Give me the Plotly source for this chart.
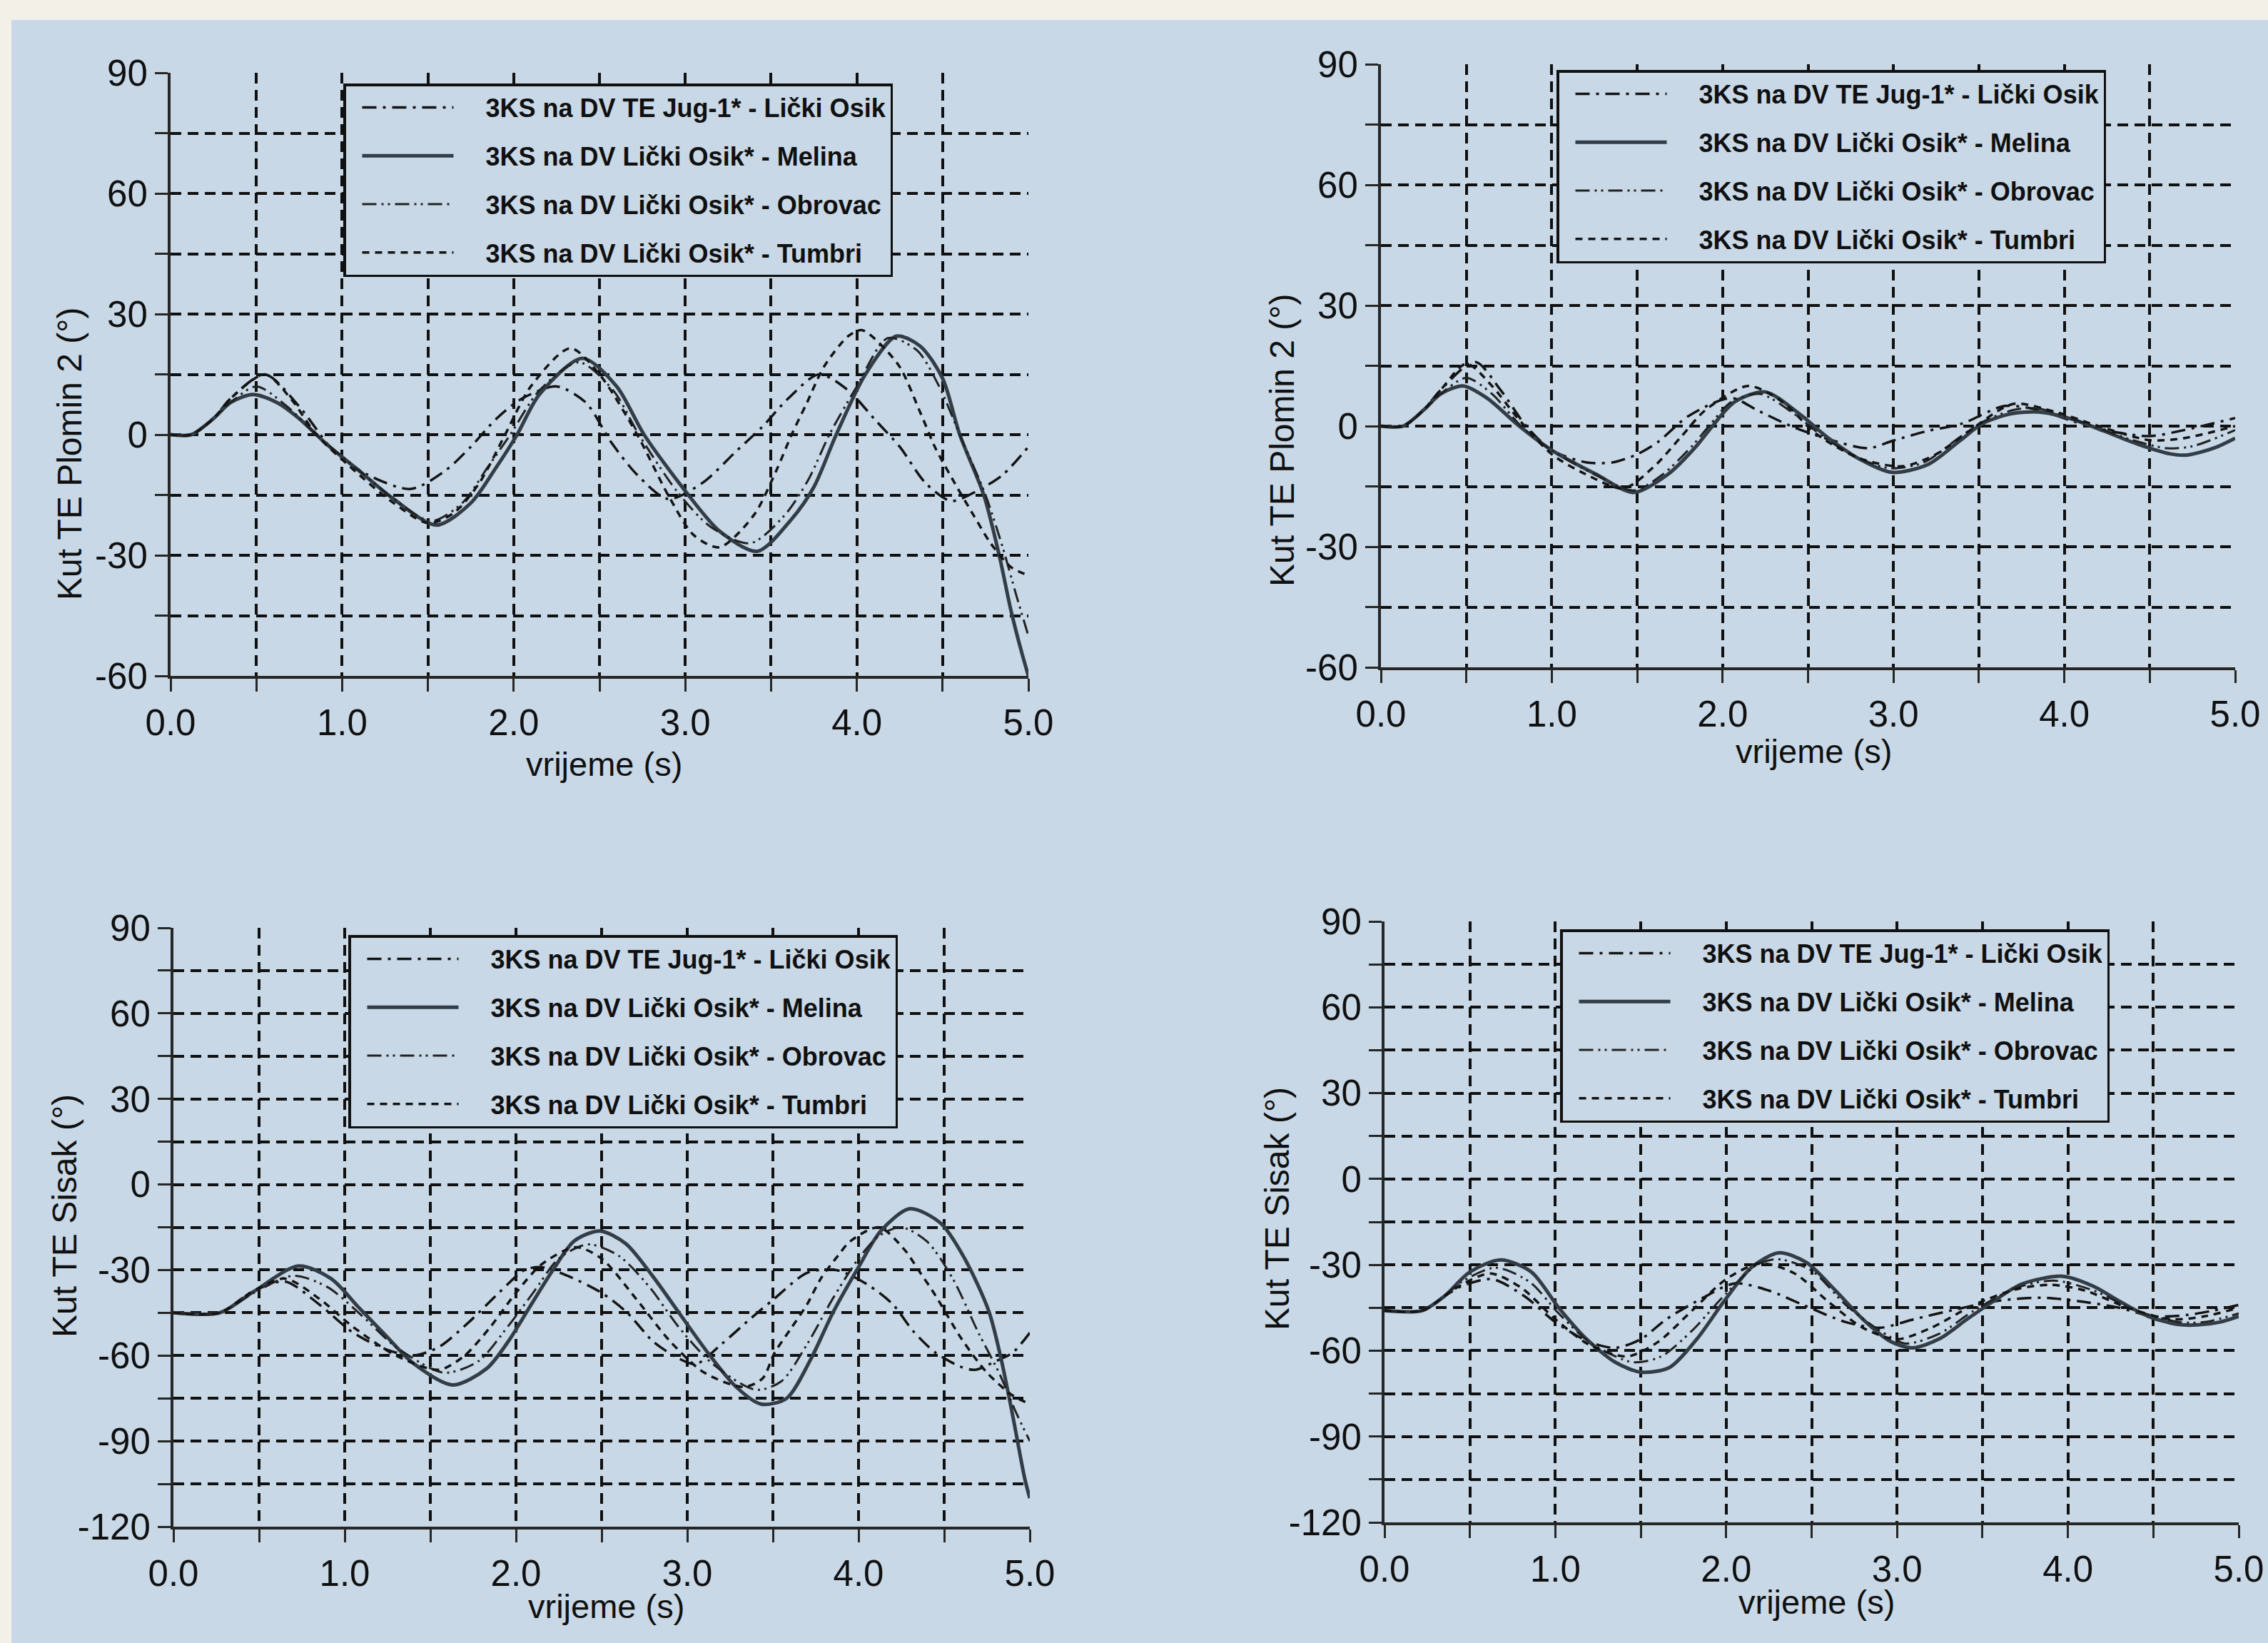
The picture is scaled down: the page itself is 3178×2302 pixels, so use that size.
import plotly.graph_objects as go

W, H = 3178, 2302

# ---------------- data ----------------
series_names = [
    "3KS na DV TE Jug-1* - Lički Osik",
    "3KS na DV Lički Osik* - Melina",
    "3KS na DV Lički Osik* - Obrovac",
    "3KS na DV Lički Osik* - Tumbri",
]

x_tick_vals = [0, 0.5, 1, 1.5, 2, 2.5, 3, 3.5, 4, 4.5, 5]
x_tick_text = ["0.0", "", "1.0", "", "2.0", "", "3.0", "", "4.0", "", "5.0"]

plomin_tick_vals = [-60, -45, -30, -15, 0, 15, 30, 45, 60, 75, 90]
plomin_tick_text = ["-60", "", "-30", "", "0", "", "30", "", "60", "", "90"]

sisak_tick_vals = [-120, -105, -90, -75, -60, -45, -30, -15, 0, 15, 30, 45, 60, 75, 90]
sisak_tick_text = ["-120", "", "-90", "", "-60", "", "-30", "", "0", "", "30", "", "60", "", "90"]

# Plomin 2 angle, case 1
a_jug_t = [0, 0.12, 0.25, 0.35, 0.55, 0.75, 0.95, 1.15, 1.4, 1.6, 1.75, 1.9, 2.05, 2.25, 2.42, 2.57, 2.72, 2.9, 3.1, 3.3, 3.45, 3.6, 3.78, 3.95, 4.1, 4.25, 4.4, 4.55, 4.7, 4.85, 5.0]
a_jug_v = [0, 0, 4, 9, 15, 7, -4, -10, -13.5, -9, -3, 4, 9, 12, 8, -2, -10, -16, -12, -4, 2, 9, 15, 11, 4, -3, -12, -16.5, -14, -10, -3]
a_mel_t = [0, 0.12, 0.25, 0.35, 0.48, 0.62, 0.75, 0.9, 1.1, 1.3, 1.55, 1.75, 1.9, 2.02, 2.15, 2.4, 2.6, 2.76, 3.0, 3.2, 3.42, 3.62, 3.75, 3.88, 4.05, 4.23, 4.37, 4.5, 4.6, 4.74, 4.83, 4.9, 4.96, 5.0]
a_mel_v = [0, 0, 4, 8, 10, 8, 4, -2, -9, -16, -22.5, -17, -8, 0, 10, 19, 12, 0, -14, -24, -29, -21, -13, 0, 15, 24.5, 22, 14, 0, -15, -30, -44, -54, -60]
a_obr_t = [0, 0.12, 0.25, 0.35, 0.5, 0.68, 0.85, 1.1, 1.3, 1.52, 1.7, 1.85, 1.98, 2.15, 2.38, 2.58, 2.73, 2.95, 3.15, 3.38, 3.58, 3.72, 3.84, 4.0, 4.18, 4.35, 4.48, 4.6, 4.75, 4.85, 4.93, 5.0]
a_obr_v = [0, 0, 4, 8, 12, 7, 0, -9, -16, -21.5, -17, -8, 0, 11, 18, 11, 0, -14, -23, -27, -20, -11, 0, 12, 24, 21, 12, 0, -15, -28, -40, -50]
a_tum_t = [0, 0.12, 0.25, 0.35, 0.55, 0.7, 0.85, 1.1, 1.3, 1.5, 1.65, 1.8, 1.95, 2.1, 2.33, 2.5, 2.72, 2.9, 3.05, 3.2, 3.4, 3.53, 3.62, 3.71, 3.81, 3.95, 4.03, 4.24, 4.37, 4.46, 4.57, 4.68, 4.78, 4.9, 5.0]
a_tum_v = [0, 0, 4, 9, 15, 9, 0, -10, -17, -22, -19.5, -12, 0, 12, 21.5, 15, 0, -15, -25, -28, -20, -9, 0, 8, 17, 24.5, 26, 17.5, 5.5, -3.5, -12, -20, -27, -33, -35]

# Plomin 2 angle, case 2
b_jug_t = [0, 0.13, 0.25, 0.35, 0.55, 0.7, 0.85, 1.0, 1.2, 1.36, 1.5, 1.62, 1.8, 2.05, 2.2, 2.4, 2.6, 2.85, 3.0, 3.2, 3.4, 3.65, 3.85, 4.05, 4.3, 4.5, 4.7, 5.0]
b_jug_v = [0, 0, 4, 9, 16, 9, 0, -6, -9, -9, -7, -4, 2.5, 7, 4, 0, -3, -5.5, -3.6, -1.2, 0.6, 5, 4, 1.2, -1.5, -2.5, -1, 2]
b_mel_t = [0, 0.13, 0.25, 0.35, 0.48, 0.62, 0.81, 1.0, 1.26, 1.48, 1.68, 1.85, 1.94, 2.07, 2.25, 2.45, 2.62, 2.81, 2.99, 3.2, 3.39, 3.52, 3.68, 3.85, 4.04, 4.23, 4.43, 4.62, 4.72, 4.88, 5.0]
b_mel_v = [0, 0, 4, 8, 10, 7, 0, -6, -12, -16.5, -12, -4.8, 0, 6, 8.5, 3, -3, -8.4, -11.5, -9.6, -3.6, 0.6, 3, 3.5, 1.8, -1.2, -4.5, -6.9, -7.2, -5.4, -3]
b_obr_t = [0, 0.13, 0.25, 0.35, 0.5, 0.65, 0.82, 1.0, 1.25, 1.48, 1.65, 1.82, 1.92, 2.05, 2.22, 2.42, 2.6, 2.8, 2.98, 3.18, 3.38, 3.52, 3.7, 3.83, 4.0, 4.2, 4.4, 4.6, 4.75, 5.0]
b_obr_v = [0, 0, 4, 8, 12, 8, 0, -6, -12, -16, -12, -5, 0, 6, 8, 3, -3, -8, -10.5, -9, -3, 1, 4, 4.5, 2.5, -0.5, -3.5, -5.5, -5, -1]
b_tum_t = [0, 0.13, 0.25, 0.35, 0.5, 0.65, 0.8, 1.0, 1.2, 1.42, 1.6, 1.75, 1.9, 2.15, 2.35, 2.55, 2.8, 3.05, 3.25, 3.45, 3.7, 3.95, 4.2, 4.5, 4.7, 5.0]
b_tum_v = [0, 0, 4, 9, 15.5, 10, 2, -7, -12, -15.5, -10, -3, 4, 10, 6, -2, -8, -10, -7, -1, 5.5, 3.5, 0, -3.5, -3, 0]

# Sisak angle, case 1
c_jug_t = [0, 0.27, 0.45, 0.65, 0.85, 1.05, 1.25, 1.4, 1.55, 1.73, 1.9, 2.05, 2.15, 2.3, 2.5, 2.65, 2.8, 2.95, 3.05, 3.2, 3.37, 3.5, 3.7, 3.87, 4.05, 4.2, 4.32, 4.45, 4.6, 4.68, 4.8, 4.9, 5.0]
c_jug_v = [-45, -45, -38, -34, -42, -52, -58, -60, -57, -48, -38, -30, -29, -32, -38, -45, -55, -61, -63, -56, -47, -40.5, -31, -30, -35, -42, -51.5, -59, -64, -65, -62, -59, -52]
c_mel_t = [0, 0.27, 0.47, 0.73, 0.92, 1.08, 1.24, 1.4, 1.63, 1.83, 1.96, 2.09, 2.22, 2.34, 2.49, 2.64, 2.8, 2.96, 3.12, 3.28, 3.43, 3.58, 3.72, 3.85, 4.0, 4.13, 4.3, 4.48, 4.62, 4.76, 4.83, 4.9, 4.97, 5.0]
c_mel_v = [-45, -45, -37.5, -28.6, -33, -43, -53, -62.7, -70.3, -64.5, -54.6, -42, -29.6, -19.8, -16.3, -20.7, -32.3, -45.7, -59, -70.7, -77, -75, -61.4, -45, -29, -16.3, -8.5, -13.6, -26, -44.3, -60.5, -81, -103, -110]
c_obr_t = [0, 0.27, 0.47, 0.7, 0.9, 1.1, 1.3, 1.58, 1.78, 1.95, 2.1, 2.25, 2.42, 2.6, 2.78, 2.95, 3.15, 3.4, 3.55, 3.7, 3.85, 4.0, 4.12, 4.25, 4.4, 4.55, 4.7, 4.82, 4.92, 5.0]
c_obr_v = [-45, -45, -38, -32, -36, -46, -57, -66, -62, -50, -38, -26, -21, -25, -36, -50, -63, -72, -69, -56, -40, -26, -18, -15, -20, -33, -52, -66, -80, -90]
c_tum_t = [0, 0.27, 0.45, 0.65, 0.85, 1.05, 1.3, 1.55, 1.7, 1.85, 2.0, 2.15, 2.35, 2.5, 2.7, 2.9, 3.1, 3.33, 3.44, 3.51, 3.6, 3.7, 3.78, 3.88, 3.95, 4.12, 4.27, 4.35, 4.45, 4.6, 4.75, 4.9, 5.0]
c_tum_v = [-45, -45, -38, -33, -40, -50, -60, -65, -60, -50, -38, -28, -22, -26, -40, -55, -66, -71, -68, -59, -51, -42, -33, -25, -20, -15, -23, -30, -39, -54, -66, -74, -77]

# Sisak angle, case 2
d_jug_t = [0, 0.22, 0.35, 0.45, 0.63, 0.82, 1.0, 1.2, 1.35, 1.5, 1.65, 1.85, 2.05, 2.25, 2.45, 2.7, 2.9, 3.1, 3.35, 3.6, 3.85, 4.1, 4.3, 4.5, 4.7, 4.85, 5.0]
d_jug_v = [-46, -46, -41, -37.5, -35, -41, -50, -57, -59, -56, -49, -42, -36.5, -39, -44, -50, -52, -49, -45.5, -42.5, -41.5, -43, -45, -48, -47.5, -46, -44]
d_mel_t = [0, 0.22, 0.35, 0.5, 0.68, 0.86, 1.02, 1.18, 1.35, 1.5, 1.67, 1.83, 1.99, 2.15, 2.31, 2.47, 2.64, 2.8, 2.96, 3.09, 3.25, 3.41, 3.57, 3.73, 3.97, 4.15, 4.31, 4.47, 4.64, 4.76, 4.89, 5.0]
d_mel_v = [-46, -46, -41, -32.5, -28.3, -32.5, -45, -55.8, -64, -67.5, -65.8, -55.8, -42.5, -30.8, -25.8, -29.2, -39, -49, -56.7, -59, -55.8, -49, -42.5, -36.7, -34, -37.5, -43, -48, -50.8, -51, -50, -48]
d_obr_t = [0, 0.22, 0.35, 0.45, 0.65, 0.85, 1.02, 1.2, 1.45, 1.62, 1.8, 2.0, 2.18, 2.3, 2.5, 2.7, 2.9, 3.05, 3.25, 3.45, 3.7, 3.92, 4.15, 4.4, 4.65, 4.8, 5.0]
d_obr_v = [-46, -46, -41, -36, -31, -36, -47, -57, -64, -62, -53, -40, -30, -28, -32, -44, -53, -57.5, -54, -46, -38, -35.5, -39, -46, -50, -50, -47]
d_tum_t = [0, 0.22, 0.35, 0.45, 0.62, 0.8, 1.0, 1.2, 1.42, 1.6, 1.8, 2.0, 2.2, 2.4, 2.6, 2.8, 3.0, 3.2, 3.45, 3.7, 3.9, 4.1, 4.35, 4.6, 4.8, 5.0]
d_tum_v = [-46, -46, -41, -37, -33, -38, -49, -58, -62, -57, -46, -35, -29.5, -33, -43, -52, -56, -52, -44, -38.5, -37, -39, -45, -49, -48, -45]

# ---------------- styling ----------------
BG = "#c8d8e6"
PAGE = "#f3f0e8"
INK = "#101010"
AXIS = "#262626"
FONT = "Liberation Sans, Arial, sans-serif"

line_styles = [
    dict(color="#141414", width=3.5, dash="20px,9px,4px,9px"),
    dict(color="#323d47", width=5, dash="solid"),
    dict(color="#222222", width=3, dash="20px,7px,3px,6px,3px,7px"),
    dict(color="#141414", width=3.5, dash="10px,8px"),
]

# gap between the legend line sample and its label
LABEL_GAP = "\u00a0" * 4

# panel geometry in page pixels: plot box (left, right, top, bottom),
# legend top-left corner, y-title centre, x-title centre
panels = [
    dict(box=(239, 1441, 102, 947), yrange=(-60, 90), yvals=plomin_tick_vals, ytext=plomin_tick_text,
         ytitle="Kut TE Plomin 2 (°)", legend=(481, 117), ytpos=(97, 636), xtpos=(846, 1070),
         data=[(a_jug_t, a_jug_v), (a_mel_t, a_mel_v), (a_obr_t, a_obr_v), (a_tum_t, a_tum_v)]),
    dict(box=(1935, 3132, 90, 935), yrange=(-60, 90), yvals=plomin_tick_vals, ytext=plomin_tick_text,
         ytitle="Kut TE Plomin 2 (°)", legend=(2181, 98), ytpos=(1796, 617), xtpos=(2541, 1052),
         data=[(b_jug_t, b_jug_v), (b_mel_t, b_mel_v), (b_obr_t, b_obr_v), (b_tum_t, b_tum_v)]),
    dict(box=(243, 1443, 1300, 2139), yrange=(-120, 90), yvals=sisak_tick_vals, ytext=sisak_tick_text,
         ytitle="Kut TE Sisak (°)", legend=(488, 1310), ytpos=(90, 1704), xtpos=(849, 2250),
         data=[(c_jug_t, c_jug_v), (c_mel_t, c_mel_v), (c_obr_t, c_obr_v), (c_tum_t, c_tum_v)]),
    dict(box=(1940, 3137, 1291, 2133), yrange=(-120, 90), yvals=sisak_tick_vals, ytext=sisak_tick_text,
         ytitle="Kut TE Sisak (°)", legend=(2186, 1302), ytpos=(1789, 1694), xtpos=(2545, 2244),
         data=[(d_jug_t, d_jug_v), (d_mel_t, d_mel_v), (d_obr_t, d_obr_v), (d_tum_t, d_tum_v)]),
]

fig = go.Figure()
layout = dict(
    width=W, height=H,
    margin=dict(l=0, r=0, t=0, b=0, pad=0, autoexpand=False),
    paper_bgcolor=BG, plot_bgcolor=BG,
    showlegend=True,
    annotations=[],
    shapes=[
        dict(type="rect", xref="paper", yref="paper", x0=0, x1=1, y0=1 - 28 / H, y1=1,
             fillcolor=PAGE, line=dict(width=0), layer="below"),
        dict(type="rect", xref="paper", yref="paper", x0=0, x1=16 / W, y0=0, y1=1,
             fillcolor=PAGE, line=dict(width=0), layer="below"),
    ],
)

grid = dict(showgrid=True, gridcolor=INK, gridwidth=3.5, griddash="15px,9px")
common_axis = dict(ticks="outside", ticklen=18, tickwidth=3, tickcolor=AXIS,
                   showline=True, linecolor=AXIS, linewidth=4, zeroline=False, automargin=False,
                   tickfont=dict(family=FONT, size=51, color=INK), fixedrange=True, **grid)

for i, p in enumerate(panels, start=1):
    sfx = "" if i == 1 else str(i)
    xname, yname = "x" + sfx, "y" + sfx
    legname = "legend" + sfx
    left, right, top, bottom = p["box"]

    layout["xaxis" + sfx] = dict(domain=[left / W, right / W], range=[0, 5], anchor=yname,
                                 tickmode="array", tickvals=x_tick_vals, ticktext=x_tick_text,
                                 **common_axis)
    layout["yaxis" + sfx] = dict(domain=[1 - bottom / H, 1 - top / H], range=list(p["yrange"]),
                                 anchor=xname, tickmode="array", tickvals=p["yvals"],
                                 ticktext=p["ytext"], **common_axis)

    lx, ly = p["legend"]
    layout[legname] = dict(x=lx / W, y=1 - ly / H, xanchor="left", yanchor="top",
                           bgcolor=BG, bordercolor=INK, borderwidth=3.5,
                           font=dict(family=FONT, size=36, color=INK, weight="bold"),
                           itemwidth=128, indentation=18, tracegroupgap=18,
                           traceorder="grouped", itemclick=False, itemdoubleclick=False)

    for j, ((t, v), name) in enumerate(zip(p["data"], series_names)):
        fig.add_trace(go.Scatter(
            x=t, y=v, mode="lines", name=LABEL_GAP + name,
            line=dict(shape="spline", smoothing=0.8, **line_styles[j]),
            xaxis=xname, yaxis=yname, legend=legname,
            legendgroup=f"{legname}-{j}", showlegend=True, hoverinfo="skip",
        ))

    ytx, yty = p["ytpos"]
    layout["annotations"].append(dict(
        text=p["ytitle"], xref="paper", yref="paper", x=ytx / W, y=1 - yty / H,
        xanchor="center", yanchor="middle", textangle=-90, showarrow=False,
        font=dict(family=FONT, size=48, color=INK)))
    xtx, xty = p["xtpos"]
    layout["annotations"].append(dict(
        text="vrijeme (s)", xref="paper", yref="paper", x=xtx / W, y=1 - xty / H,
        xanchor="center", yanchor="middle", showarrow=False,
        font=dict(family=FONT, size=47, color=INK)))

fig.update_layout(**layout)
fig.write_html(
    "out.html",
    config={"displayModeBar": False},
    post_script="document.body.style.margin='0';document.body.style.overflow='hidden';",
)
